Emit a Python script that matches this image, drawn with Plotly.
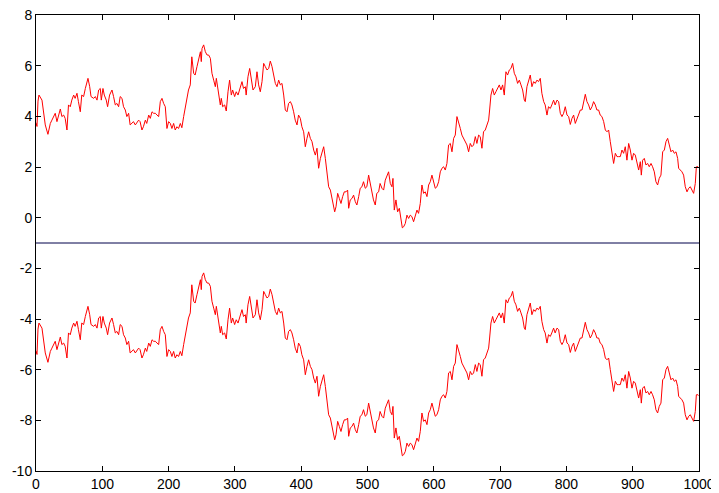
import plotly.graph_objects as go

# sample index and random-walk value (upper trace)
step = [0, 1.5, 3, 4.5, 9, 11.5, 14, 18, 21.6, 24, 26.6, 29, 31.6, 34, 36.7, 39, 41.7, 44, 46.7, 49,
        51.7, 54, 56.8, 59, 61.8, 64, 66.8, 69, 71.8, 74.4, 76.9, 78.4, 81, 83, 87, 89.5, 92, 94.5, 97, 98.5,
        101, 103, 106, 108, 111, 114.6, 117, 119.6, 122, 124.6, 127, 129.7, 132, 134.7, 137, 139.7, 142, 144.8, 147, 149.8,
        152, 154.8, 157, 159.8, 162, 164.9, 167, 170, 172.4, 175, 177.4, 180, 182.5, 185, 187.5, 190, 192.5, 195, 197.5, 200,
        202.6, 205, 207.6, 210, 212.6, 215, 217.7, 220, 222.7, 225, 227.7, 230, 232.7, 235, 237.8, 240, 242.8, 245.3, 248, 249.3,
        250.4, 252.9, 255.4, 258, 260.4, 263, 265.4, 268, 270.5, 272, 274, 275.5, 278, 279.5, 281.5, 284.5, 287, 289.6, 292, 294.6,
        296.6, 299.6, 302, 304.7, 307, 310.7, 313, 315.7, 317, 319.7, 322.3, 324.8, 327.3, 330.8, 333.3, 335.8, 338.3, 340.9, 343.4, 345.9,
        348.4, 351, 353.4, 356, 358.5, 361, 363.5, 366, 368.5, 371, 373.6, 376, 378.6, 381, 383.6, 386, 388.6, 391, 393.7, 396,
        398.7, 401, 403.7, 406.2, 408.7, 411.2, 413.8, 416.3, 418.8, 421.3, 423.8, 426.3, 428.9, 431.4, 433.9, 436.4, 439, 441.4, 444, 446.4,
        449, 450.5, 452.5, 455, 457.5, 460, 462.5, 465, 467.6, 470, 471.6, 474, 476.6, 479, 481.6, 484, 486.7, 489, 491.6, 494,
        496.6, 499, 501.7, 504, 506.7, 509, 511.7, 514, 516.8, 519, 521.8, 524.3, 526.8, 529.3, 531.8, 534.4, 536.9, 538.4, 540.4, 542.9,
        545.4, 548, 550.4, 552.5, 554.5, 557, 559.5, 562, 564.5, 567, 569.5, 572, 574.6, 577, 579.6, 582.1, 584.6, 587.1, 589.7, 592.2,
        594.7, 597.2, 599.7, 602.2, 604.7, 607.3, 609.8, 612.3, 614.8, 617.3, 619.8, 622.3, 624.9, 627.4, 629.9, 632.4, 634.9, 637.4, 640, 642.4,
        645, 647.5, 650, 652.5, 655, 657.5, 660, 662.6, 665, 667.6, 670, 672.6, 675, 677.6, 680, 682.7, 684.2, 686.2, 688.7, 691.2,
        693.7, 696.2, 698.8, 701.3, 703.8, 706.3, 708.8, 711.3, 713.9, 716.4, 718.9, 721.4, 723.9, 726.4, 729, 731.5, 734, 736.5, 738, 740.5,
        743, 745.5, 748, 750.6, 753, 755.6, 758, 760.6, 763, 765.7, 768, 770.7, 773, 775.7, 778, 780.7, 783, 785.8, 788.3, 790.8,
        793.3, 795.8, 798.3, 800.9, 803.4, 805.9, 808.4, 810.9, 813.4, 816, 818.5, 821, 823.5, 826, 828.5, 831, 833.5, 836, 838.6, 841,
        843.6, 846, 848.6, 851, 853.6, 856.2, 858.7, 861.2, 863.7, 866.2, 868.7, 871.2, 873.8, 876.3, 878.8, 881.3, 883.8, 886.3, 888.8, 891.3,
        893.9, 896.4, 898.9, 901.4, 903.9, 906.4, 909, 911.5, 913, 915, 917.5, 920, 922.5, 925, 927.6, 930, 932.6, 935, 937.6, 940,
        942.6, 945.2, 947.7, 950.2, 952.7, 955.2, 957.7, 960.2, 962.8, 965.3, 967.8, 969.3, 971.8, 974.3, 976.8, 979.3, 981.9, 984.4, 986.9, 989.4,
        991.9, 994.4, 996, 998.5, 1000]

walk = [3.75, 3.6, 4.6, 4.84, 4.64, 4.18, 3.66, 3.29, 3.72, 3.85, 3.99, 4.12, 3.79, 4.05, 4.29, 3.99, 4.05, 3.92, 3.46, 4.45,
        4.38, 4.64, 4.84, 4.71, 4.91, 4.58, 4.18, 4.84, 4.78, 5.10, 5.37, 5.50, 5.17, 4.78, 4.71, 4.78, 4.64, 5.04, 5.10, 4.64,
        5.10, 4.84, 4.64, 4.38, 4.84, 5.04, 4.78, 4.45, 4.51, 4.38, 4.78, 4.71, 4.38, 4.25, 3.99, 4.12, 3.66, 3.72, 3.79, 3.66,
        3.76, 3.85, 3.79, 3.46, 3.59, 3.85, 3.72, 4.05, 3.92, 4.18, 4.12, 4.12, 4.05, 3.99, 4.58, 4.71, 4.51, 4.38, 3.52, 3.79,
        3.72, 3.52, 3.72, 3.46, 3.59, 3.52, 3.72, 3.55, 3.99, 4.31, 4.84, 5.04, 5.24, 6.35, 5.70, 5.63, 5.96, 6.22, 6.55, 6.16,
        6.68, 6.82, 6.55, 6.42, 6.42, 6.29, 5.70, 5.43, 5.17, 5.50, 5.17, 4.78, 4.45, 4.71, 4.38, 4.45, 4.21, 4.97, 5.43, 4.84,
        5.04, 4.78, 4.97, 4.84, 5.04, 5.37, 5.10, 5.17, 4.84, 5.56, 5.89, 5.50, 5.04, 5.17, 5.76, 5.24, 4.97, 5.37, 6.09, 5.96,
        5.83, 5.89, 6.18, 5.96, 5.63, 5.30, 5.17, 5.43, 5.24, 5.30, 4.84, 4.25, 4.18, 4.51, 4.58, 4.45, 4.18, 3.85, 3.66, 4.05,
        3.92, 3.59, 3.39, 2.80, 3.13, 3.39, 3.13, 3.00, 2.67, 2.47, 2.74, 1.95, 2.34, 2.54, 2.80, 2.34, 1.81, 1.22, 1.09, 0.76,
        0.50, 0.23, 0.43, 0.96, 0.76, 0.56, 0.83, 1.02, 1.02, 1.09, 0.37, 0.70, 0.76, 0.89, 0.63, 0.50, 0.83, 1.16, 1.22, 1.42,
        1.16, 1.22, 1.68, 1.35, 0.96, 0.70, 0.50, 0.96, 1.02, 1.35, 1.16, 1.09, 1.48, 1.68, 1.81, 1.35, 1.22, 1.55, 0.30, 0.70,
        0.23, 0.37, 0.04, -0.40, -0.36, -0.23, 0.10, -0.03, 0.10, 0.04, -0.16, 0.10, 0.30, 0.17, 0.56, 1.29, 0.96, 1.02, 0.83, 1.29,
        1.42, 1.68, 1.42, 1.16, 1.22, 1.42, 1.81, 1.95, 2.01, 1.88, 2.14, 2.87, 2.93, 2.60, 3.13, 3.26, 3.99, 3.79, 3.52, 3.26,
        3.13, 3.00, 2.87, 2.60, 2.93, 2.80, 2.87, 3.20, 2.93, 3.26, 3.20, 2.74, 3.39, 3.46, 3.66, 3.85, 4.25, 4.84, 5.10, 4.84,
        4.97, 5.10, 5.24, 5.04, 5.24, 4.84, 5.76, 5.63, 5.83, 5.89, 6.09, 5.70, 5.56, 5.30, 5.43, 5.24, 5.04, 4.64, 4.58, 5.17,
        5.37, 5.63, 5.17, 5.37, 5.30, 5.43, 5.37, 5.50, 4.91, 4.58, 4.45, 4.05, 4.38, 4.31, 4.45, 4.64, 4.45, 4.64, 4.58, 4.12,
        3.99, 4.12, 4.38, 4.05, 3.99, 3.68, 3.92, 4.05, 3.72, 3.92, 4.05, 4.25, 4.25, 4.58, 4.87, 4.58, 4.45, 4.25, 4.38, 4.58,
        4.45, 4.25, 4.25, 4.05, 3.99, 3.79, 3.46, 3.39, 3.46, 3.00, 2.54, 2.14, 2.54, 2.41, 2.41, 2.41, 2.67, 2.54, 2.80, 2.27,
        2.93, 2.67, 2.27, 2.54, 2.47, 2.21, 1.88, 2.21, 1.68, 2.27, 2.34, 2.08, 2.14, 2.01, 2.14, 2.01, 1.81, 1.42, 1.29, 1.55,
        1.68, 2.60, 2.67, 3.00, 3.13, 2.87, 2.60, 2.67, 2.54, 2.60, 2.34, 1.95, 1.88, 1.81, 1.68, 1.22, 1.02, 1.16, 1.22, 1.09,
        0.96, 1.35, 2.01, 2.01, 1.97]

# lower trace is the same walk shifted down
shift = -9.0
# horizontal reference line
hline_y = -1.0

x_ticks = [0, 100, 200, 300, 400, 500, 600, 700, 800, 900, 1000]
y_ticks = [-10, -8, -6, -4, -2, 0, 2, 4, 6, 8]

lower = [v + shift for v in walk]

fig = go.Figure()
fig.add_trace(go.Scatter(x=step, y=walk, mode="lines",
                         line=dict(color="#ff0000", width=1), showlegend=False))
fig.add_trace(go.Scatter(x=step, y=lower, mode="lines",
                         line=dict(color="#ff0000", width=1), showlegend=False))
fig.add_trace(go.Scatter(x=[0, 1000], y=[hline_y, hline_y], mode="lines",
                         line=dict(color="#00004a", width=1), showlegend=False))

axis_common = dict(showgrid=False, zeroline=False, showline=True, linecolor="black",
                   linewidth=1, mirror="ticks", ticks="inside", ticklen=5,
                   tickcolor="black", tickwidth=1, ticklabeloverflow="allow",
                   tickfont=dict(family="Liberation Sans, Arial, sans-serif", size=14, color="black"))

fig.update_xaxes(range=[0, 1000], tickvals=x_ticks,
                 ticktext=[str(t) for t in x_ticks], **axis_common)
fig.update_yaxes(range=[-10, 8], tickvals=y_ticks,
                 ticktext=[str(t) for t in y_ticks], **axis_common)

# page body has an 8px margin, so the figure is sized to end at the window edge
fig.update_layout(width=711, height=485,
                  margin=dict(l=28, r=20, t=7, b=22, autoexpand=False),
                  paper_bgcolor="white", plot_bgcolor="white")

fig.write_html("out.html")
